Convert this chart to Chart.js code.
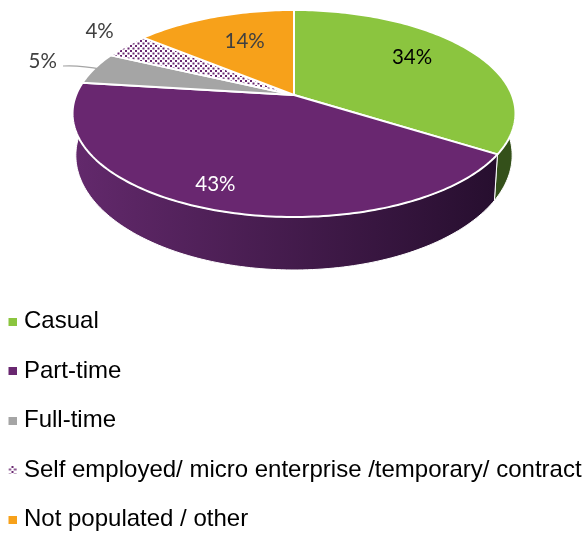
<!DOCTYPE html>
<html>
<head>
<meta charset="utf-8">
<script src="https://cdn.jsdelivr.net/npm/chart.js@4/dist/chart.umd.js"></script>
<style>
  html, body { margin:0; padding:0; background:#fff; overflow:hidden; }
  #wrap { width:584px; height:557px; position:relative; }
</style>
</head>
<body>
<div id="wrap"><canvas id="pie"></canvas></div>
<script>
const categories = ['Casual', 'Part-time', 'Full-time', 'Self employed/ micro enterprise /temporary/ contract', 'Not populated / other']
const shares = [34, 43, 5, 4, 14]

const sliceColors = ['#8BC53F', '#692770', '#A5A5A5', null, '#F7A11A']
const wallColors = [['#3F5F1C', '#34501A'], ['#63296C', '#260E2E'], ['#777', '#666'], ['#555', '#555'], ['#B57510', '#A56A0E']]
const labelColors = ['#000000', '#ffffff', '#404040', '#404040', '#404040']

// label anchor: radius fraction on the slice's mid angle, then a nudge in px
const labelPlace = [
  { r:0.7, dx:-8, dy:-6 },
  { r:0.7, dx:-20, dy:15 },
  { r:1.25, dx:-5, dy:-1 },
  { r:1.25, dx:11, dy:-4 },
  { r:0.7, dx:9, dy:3 }
]

// tilted disc: unit circle seen in perspective
const view = { cx:294, cy:95, ax:217.9, by:100.2, k:0.1787, depth:40, shrink:0.985 }

function project(a, r, lower){
  const u = r*Math.cos(a), v = r*Math.sin(a), w = 1 - view.k*v
  const s = lower ? view.shrink : 1
  return {
    x: view.cx + s*view.ax*u/w,
    y: view.cy + s*view.by*v/w + (lower ? view.depth/Math.pow(w, 1.6) : 0)
  }
}

function dotPattern(){
  const c = document.createElement('canvas')
  c.width = 5; c.height = 5
  const g = c.getContext('2d')
  g.fillStyle = '#fff'
  g.fillRect(0,0,5,5)
  g.fillStyle = '#692770'
  g.fillRect(0,0,2,2)
  g.fillRect(2.5,2.5,2,2)
  return c
}

function legendSwatch(i){
  // two blank columns on the left push the square toward the label
  const c = document.createElement('canvas')
  c.width = 10; c.height = 8
  const g = c.getContext('2d')
  if(sliceColors[i]){
    g.fillStyle = sliceColors[i]
  } else {
    g.fillStyle = g.createPattern(dotPattern(), 'repeat')
  }
  g.fillRect(2,0,8,8)
  return c
}

function arcPoints(a0, a1, r, lower){
  const n = Math.max(2, Math.ceil(Math.abs(a1-a0)/0.02))
  const pts = []
  for(let i=0;i<=n;i++) pts.push(project(a0+(a1-a0)*i/n, r, lower))
  return pts
}

function tracePath(ctx, pts){
  ctx.beginPath()
  pts.forEach((p,i) => i ? ctx.lineTo(p.x,p.y) : ctx.moveTo(p.x,p.y))
  ctx.closePath()
}

// draws the arcs of the pie dataset as an extruded disc
const disc3d = {
  id:'disc3d',
  beforeDatasetDraw(chart){
    const ctx = chart.ctx
    const arcs = chart.getDatasetMeta(0).data
    const pattern = ctx.createPattern(dotPattern(), 'repeat')

    ctx.save()
    ctx.lineJoin = 'round'
    arcs.forEach((arc,i) => {
      const top = arcPoints(arc.startAngle, arc.endAngle, 1, false)
      const low = arcPoints(arc.startAngle, arc.endAngle, 1, true)
      const grad = ctx.createLinearGradient(72,0,500,0)
      grad.addColorStop(0, wallColors[i][0])
      grad.addColorStop(1, wallColors[i][1])
      tracePath(ctx, top.concat(low.reverse()))
      ctx.fillStyle = grad
      ctx.fill()
      ctx.strokeStyle = '#fff'
      ctx.lineWidth = 1
      ctx.stroke()
    })
    arcs.forEach((arc,i) => {
      const pts = arcPoints(arc.startAngle, arc.endAngle, 1, false)
      tracePath(ctx, [project(0,0,false)].concat(pts))
      ctx.fillStyle = sliceColors[i] || pattern
      ctx.fill()
      ctx.strokeStyle = '#fff'
      ctx.lineWidth = 2
      ctx.stroke()
    })

    // leader line for the full-time label
    const g = arcs[2]
    const end = project((g.startAngle+g.endAngle)/2, 0.96, false)
    ctx.beginPath()
    ctx.moveTo(63, 66)
    ctx.quadraticCurveTo(80, 65, end.x, end.y)
    ctx.strokeStyle = '#A5A5A5'
    ctx.lineWidth = 1.2
    ctx.stroke()

    ctx.font = '20.5px Lato'
    ctx.textAlign = 'center'
    ctx.textBaseline = 'middle'
    arcs.forEach((arc,i) => {
      const place = labelPlace[i]
      const p = project((arc.startAngle+arc.endAngle)/2, place.r, false)
      ctx.fillStyle = labelColors[i]
      ctx.fillText(shares[i] + '%', p.x+place.dx, p.y+place.dy)
    })
    ctx.restore()
    return false
  }
}

new Chart(document.getElementById('pie'), {
  type:'pie',
  data:{ labels:categories, datasets:[{ data:shares, backgroundColor:sliceColors.map(c => c || '#692770') }] },
  plugins:[disc3d],
  options:{
    responsive:true,
    maintainAspectRatio:false,
    animation:false,
    layout:{ padding:{ left:-14.5 } },
    plugins:{
      tooltip:{ enabled:false },
      legend:{
        position:'left',
        align:'end',
        maxWidth:620,
        labels:{
          usePointStyle:true,
          pointStyleWidth:1,
          padding:25.5,
          color:'#000',
          font:{ family:'"Liberation Sans"', size:24 },
          generateLabels:chart => categories.map((text,i) => ({
            text, index:i, datasetIndex:0, pointStyle:legendSwatch(i), fontColor:'#000', lineWidth:0
          }))
        }
      }
    }
  }
})
</script>
</body>
</html>
